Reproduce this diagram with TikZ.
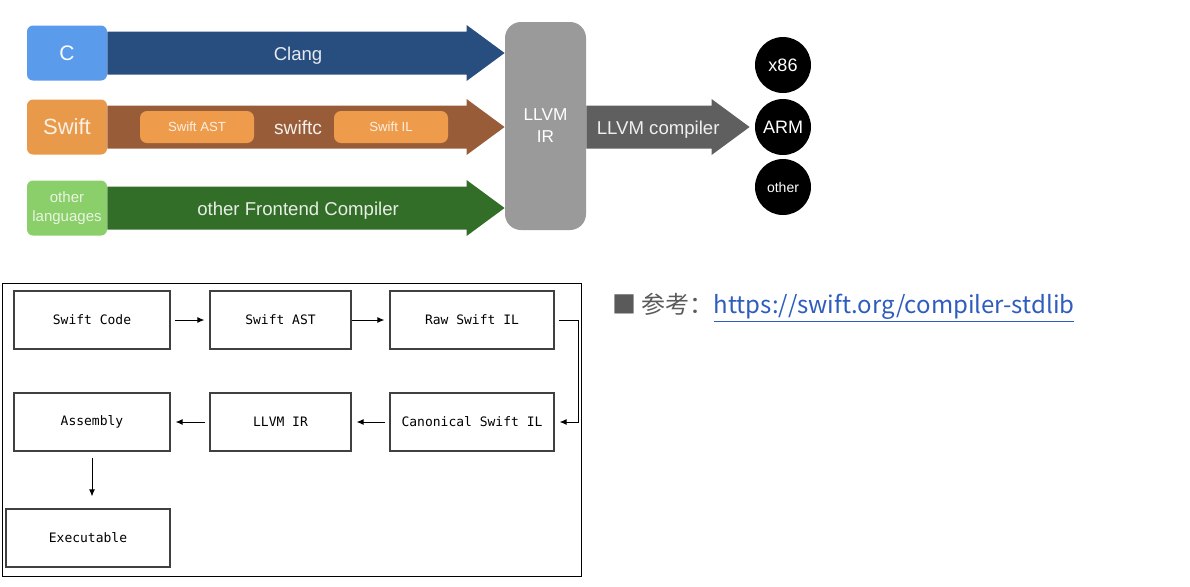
\documentclass[tikz,border=0pt]{standalone}
\usepackage{fontspec}
\setmainfont{Liberation Sans}
\setmonofont{DejaVu Sans Mono}
\newfontfamily\cjk{Noto Sans CJK SC}
\usetikzlibrary{calc, arrows.meta}
\definecolor{cblue}{HTML}{5A9BEB}
\definecolor{clangnavy}{HTML}{284E7F}
\definecolor{swiftorange}{HTML}{E8994A}
\definecolor{swiftbrown}{HTML}{985D38}
\definecolor{innerorange}{HTML}{EE9C4C}
\definecolor{langgreen}{HTML}{8ACF69}
\definecolor{frontgreen}{HTML}{336E29}
\definecolor{irgray}{HTML}{9A9A9A}
\definecolor{backgray}{HTML}{5F5F5F}
\definecolor{linkblue}{HTML}{2E5DBD}
\definecolor{refgray}{HTML}{5A5A5A}

% fat arrow: style, start, tip
\newcommand{\fatarrow}[3]{%
  \fill[#1] ($(#2)+(0,-21.5)$) -- ($(#3)+(-38,-21.5)$) -- ($(#3)+(-38,-28)$)
    -- (#3) -- ($(#3)+(-38,28)$) -- ($(#3)+(-38,21.5)$) -- ($(#2)+(0,21.5)$) -- cycle;}

\begin{document}
\begin{tikzpicture}[x=0.5pt, y=-0.5pt,
  lang/.style={rounded corners=3pt, minimum width=40pt, minimum height=27.5pt, inner sep=0pt, align=center},
  inner/.style={fill=innerorange, rounded corners=3.5pt, minimum width=57pt, minimum height=16pt, inner sep=0pt,
    text=white!85!innerorange, font=\fontsize{6.6}{8}\selectfont},
  label/.style={anchor=mid, yshift=-1pt, font=\fontsize{9.3}{11}\selectfont, inner sep=0pt},
  target/.style={circle, fill=black, text=white, minimum size=28pt, inner sep=0pt, font=\fontsize{9}{11}\selectfont},
  stage/.style={draw=black!75, line width=0.6pt, minimum height=29pt, inner sep=0pt,
    font=\ttfamily\fontsize{6.5}{8}\selectfont},
  flow/.style={-{Latex[length=3.5pt,width=3pt]}, line width=0.5pt, shorten <=2pt, shorten >=2.5pt}]
  \useasboundingbox (0,0) rectangle (1190,586);

  % Front ends
  \node[lang, fill=cblue, text=white, font=\fontsize{10.5}{12}\selectfont] (c) at (67,53) {C};
  \node[lang, fill=swiftorange, text=white!85!swiftorange, font=\fontsize{11}{13}\selectfont] (swift) at (67,127) {Swift};
  \node[lang, fill=langgreen, text=white!80!langgreen, font=\fontsize{7.5}{9.5}\selectfont] (other) at (67,208) {other\\languages};
  \node[fill=irgray, rounded corners=8pt, minimum width=40.5pt, minimum height=104pt, inner sep=0pt,
    text=white, align=center, font=\fontsize{8.6}{11}\selectfont] (ir) at (545.5,126) {LLVM\\IR};

  \coordinate (cTip) at (ir.west |- c.east);
  \coordinate (swiftTip) at (ir.west |- swift.east);
  \coordinate (otherTip) at (ir.west |- other.east);
  \fatarrow{clangnavy}{c.east}{cTip}
  \fatarrow{swiftbrown}{swift.east}{swiftTip}
  \fatarrow{frontgreen}{other.east}{otherTip}

  \node[label, text=white!88!clangnavy] (clang) at ($(c.east)!0.48!(cTip)$) {Clang};
  \node[label, text=white!90!swiftbrown, font=\fontsize{9.6}{11}\selectfont] (swiftc) at ($(swift.east)!0.48!(swiftTip)$) {swiftc};
  \node[inner] (swiftast) at (197,127) {Swift AST};
  \node[inner] (swiftil) at (391,127) {Swift IL};
  \node[label, text=white!88!frontgreen] (frontend) at ($(other.east)!0.48!(otherTip)$) {other Frontend Compiler};

  % Back end
  \node[target] (x86) at (783,65) {x86};
  \node[target] (arm) at (783,127) {ARM};
  \node[target, font=\fontsize{7}{9}\selectfont] (othert) at (783,187) {other};
  \coordinate (armTip) at ($(arm.west)+(-5,0)$);
  \fatarrow{backgray}{ir.east |- arm.west}{armTip}
  \node[label, text=white!90!backgray] (llvmc) at ($(ir.east |- arm.west)!0.44!(armTip)$) {LLVM compiler};

  % Pipeline
  \draw[line width=0.5pt] (2,283) rectangle (581,576);
  \node[stage, minimum width=78pt] (code) at (92,320) {Swift Code};
  \node[stage, minimum width=70.5pt] (ast) at (280.5,320) {Swift AST};
  \node[stage, minimum width=82pt] (raw) at (472,320) {Raw Swift IL};
  \node[stage, minimum width=78pt] (asm) at (92,422) {Assembly};
  \node[stage, minimum width=70.5pt] (llir) at (280.5,422) {LLVM IR};
  \node[stage, minimum width=82pt] (canon) at (472,422) {Canonical Swift IL};
  \node[stage, minimum width=82pt] (exe) at (88,538) {Executable};

  \draw[flow] (code) -- (ast);
  \draw[flow, shorten <=0pt] (ast) -- (raw);
  \draw[flow] (raw.east) -- ++(24,0) |- (canon.east);
  \draw[flow] (canon) -- (llir);
  \draw[flow] (llir) -- (asm);
  \draw[flow, shorten <=3pt, shorten >=6pt] (asm.south) -- (asm.south |- exe.north);

  % Reference
  \node[anchor=base west, inner sep=0pt, text=refgray, font=\cjk\fontsize{12}{14}\selectfont] (ref) at (612,313)
    {■ 参考：\textcolor{linkblue}{\underline{https://swift.org/compiler-stdlib}}};
\end{tikzpicture}
\end{document}
